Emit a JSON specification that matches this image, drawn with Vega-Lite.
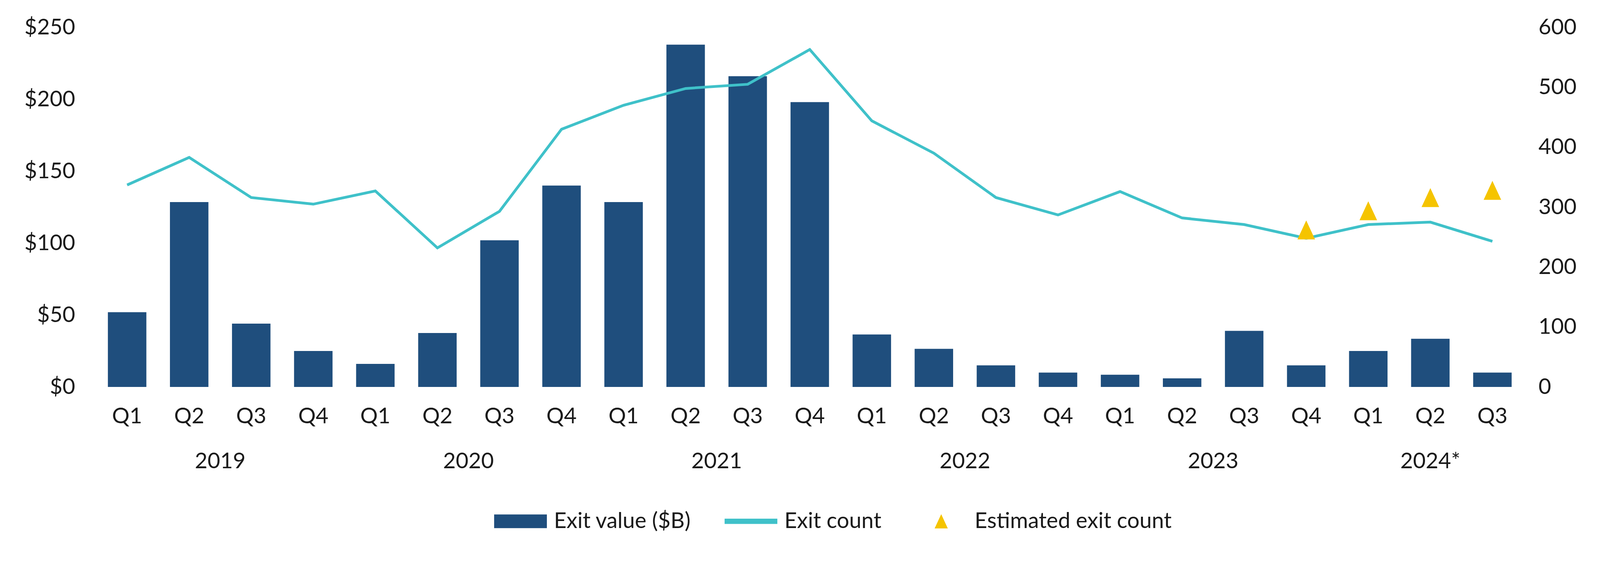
{
  "$schema": "https://vega.github.io/schema/vega-lite/v6.json",
  "description": "Quarterly exit value ($B) and exit count, 2019 to 2024 Q3",
  "autosize": "none",
  "width": 3654,
  "height": 920,
  "padding": {"left": 246, "top": 70, "right": 324, "bottom": 453},
  "background": "white",
  "config": {
    "font": "Lato",
    "view": {"stroke": null},
    "axis": {
      "labelFont": "Lato",
      "labelFontSize": 56,
      "labelColor": "#1a1a1a",
      "ticks": false,
      "domain": false,
      "grid": false,
      "title": null,
      "labelOverlap": false
    },
    "legend": {"labelFont": "Lato", "labelFontSize": 56, "labelColor": "#1a1a1a", "labelLimit": 1000}
  },
  "data": {
    "values": [
      {"period": "2019 Q1", "value": 52, "count": 337, "est": null},
      {"period": "2019 Q2", "value": 128.5, "count": 383, "est": null},
      {"period": "2019 Q3", "value": 44, "count": 316, "est": null},
      {"period": "2019 Q4", "value": 25, "count": 305, "est": null},
      {"period": "2020 Q1", "value": 16, "count": 327, "est": null},
      {"period": "2020 Q2", "value": 37.5, "count": 232, "est": null},
      {"period": "2020 Q3", "value": 102, "count": 293, "est": null},
      {"period": "2020 Q4", "value": 140, "count": 430, "est": null},
      {"period": "2021 Q1", "value": 128.5, "count": 470, "est": null},
      {"period": "2021 Q2", "value": 238, "count": 498, "est": null},
      {"period": "2021 Q3", "value": 216, "count": 505, "est": null},
      {"period": "2021 Q4", "value": 198, "count": 563, "est": null},
      {"period": "2022 Q1", "value": 36.5, "count": 444, "est": null},
      {"period": "2022 Q2", "value": 26.5, "count": 390, "est": null},
      {"period": "2022 Q3", "value": 15, "count": 316, "est": null},
      {"period": "2022 Q4", "value": 10, "count": 287, "est": null},
      {"period": "2023 Q1", "value": 8.5, "count": 326, "est": null},
      {"period": "2023 Q2", "value": 6, "count": 282, "est": null},
      {"period": "2023 Q3", "value": 39, "count": 271, "est": null},
      {"period": "2023 Q4", "value": 15, "count": 248, "est": 262},
      {"period": "2024 Q1", "value": 25, "count": 271, "est": 294},
      {"period": "2024 Q2", "value": 33.5, "count": 275, "est": 316},
      {"period": "2024 Q3", "value": 10, "count": 243, "est": 328}
    ]
  },
  "layer": [
    {
      "mark": {"type": "bar", "color": "#1F4E7D"},
      "encoding": {
        "x": {
          "field": "period",
          "type": "ordinal",
          "scale": {"type": "band", "paddingInner": 0.38, "paddingOuter": 0.19},
          "axis": {"labelExpr": "slice(datum.value, 5)", "labelAngle": 0, "labelPadding": 48}
        },
        "y": {
          "field": "value",
          "type": "quantitative",
          "scale": {"domain": [0, 250]},
          "axis": {"values": [0, 50, 100, 150, 200, 250], "labelExpr": "'$' + datum.value", "labelPadding": 54}
        }
      }
    },
    {
      "encoding": {
        "x": {
          "field": "period",
          "type": "ordinal",
          "scale": {"type": "band", "paddingInner": 0.38, "paddingOuter": 0.19},
          "axis": {
            "orient": "bottom",
            "labelAngle": 0,
            "labelExpr": "slice(datum.value, 5) == 'Q2' ? (slice(datum.value, 0, 4) == '2024' ? '2024*' : slice(datum.value, 0, 4)) : ''",
            "labelOffset": {"condition": {"test": "datum.value == '2024 Q2'", "value": 0}, "value": 79.4},
            "labelPadding": 163
          }
        }
      },
      "layer": [
        {
          "mark": {"type": "line", "color": "#3FC1C9", "strokeWidth": 7},
          "encoding": {
            "y": {
              "field": "count",
              "type": "quantitative",
              "scale": {"domain": [0, 600]},
              "axis": {"orient": "right", "values": [0, 100, 200, 300, 400, 500, 600], "labelPadding": 38}
            }
          }
        },
        {
          "transform": [{"filter": "datum.est != null"}],
          "mark": {"type": "point", "filled": true, "opacity": 1, "size": 32400},
          "encoding": {
            "y": {
              "field": "est",
              "type": "quantitative",
              "scale": {"domain": [0, 600]},
              "axis": {"orient": "right", "values": [0, 100, 200, 300, 400, 500, 600], "labelPadding": 38}
            },
            "color": {
              "datum": "Estimated exit count",
              "type": "nominal",
              "scale": {
                "domain": ["Exit value ($B)", "Exit count", "Estimated exit count"],
                "range": ["#1F4E7D", "#3FC1C9", "#F5C400"]
              },
              "legend": {
                "title": null,
                "orient": "none",
                "legendX": 1019,
                "legendY": 1196,
                "direction": "horizontal",
                "symbolSize": 18225,
                "symbolStrokeWidth": 0,
                "labelOffset": 18,
                "columnPadding": 85
              }
            },
            "shape": {
              "datum": "Estimated exit count",
              "type": "nominal",
              "scale": {
                "domain": ["Exit value ($B)", "Exit count", "Estimated exit count"],
                "range": ["M-1,-0.26H1V0.26H-1Z", "M-1,-0.1H1V0.1H-1Z", "M0,-0.27L0.25,0.27H-0.25Z"]
              },
              "legend": {
                "title": null,
                "orient": "none",
                "legendX": 1019,
                "legendY": 1196,
                "direction": "horizontal",
                "symbolSize": 18225,
                "symbolStrokeWidth": 0,
                "labelOffset": 18,
                "columnPadding": 85
              }
            }
          }
        }
      ]
    }
  ],
  "resolve": {"scale": {"x": "independent", "y": "independent"}}
}
